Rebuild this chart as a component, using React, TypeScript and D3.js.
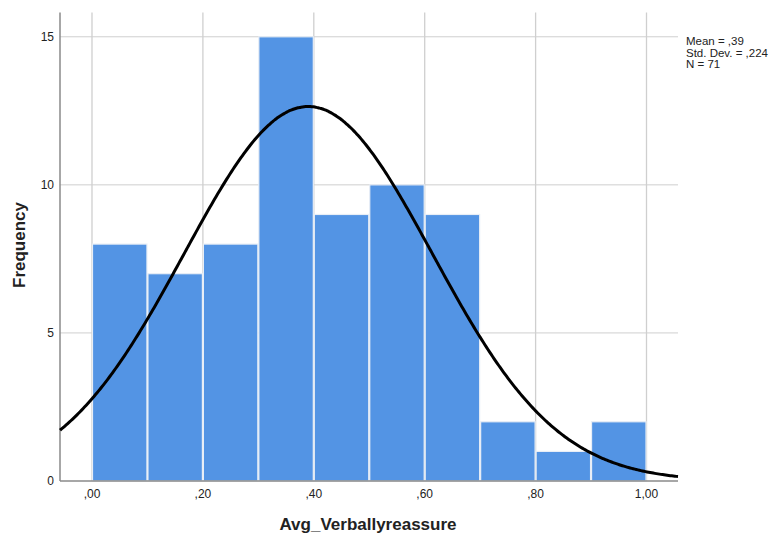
import React from "react";
import * as d3 from "d3";

// Histogram bins (lower edge) and counts
const binStarts = [0.0, 0.1, 0.2, 0.3, 0.4, 0.5, 0.6, 0.7, 0.8, 0.9];
const binWidth = 0.1;
const counts = [8, 7, 8, 15, 9, 10, 9, 2, 1, 2];
const xTicks = [0, 0.2, 0.4, 0.6, 0.8, 1.0];
const xTickLabels = [",00", ",20", ",40", ",60", ",80", "1,00"];
const yTicks = [0, 5, 10, 15];
const stats = { mean: 0.39, sd: 0.224, n: 71 };
const statLines = ["Mean = ,39", "Std. Dev. = ,224", "N = 71"];

const W = 771;
const H = 538;
const left = 60;
const right = 678;
const top = 12.5;
const bottom = 481;

export default function App() {
  const x = d3.scaleLinear().domain([-0.0577, 1.0568]).range([left, right]);
  const y = d3.scaleLinear().domain([0, 15.82]).range([bottom, top]);

  // normal curve scaled to the histogram (N * bin width * density)
  const pdf = (v: number) =>
    (stats.n * binWidth) / (stats.sd * Math.sqrt(2 * Math.PI)) *
    Math.exp(-0.5 * ((v - stats.mean) / stats.sd) ** 2);
  const curvePts = d3.range(0, 401).map((i) => {
    const v = -0.0577 + (i / 400) * (1.0568 + 0.0577);
    return [v, pdf(v)] as [number, number];
  });
  const line = d3
    .line<[number, number]>()
    .x((d) => x(d[0]))
    .y((d) => y(d[1]))
    .curve(d3.curveBasis);

  const font = "Arial, 'Liberation Sans', sans-serif";

  return (
    <svg width={W} height={H} style={{ position: "absolute", left: 0, top: 0 }}>
      <rect width={W} height={H} fill="#fff" />
      {/* gridlines */}
      {yTicks.filter((t) => t > 0).map((t) => (
        <line key={"gy" + t} x1={left} x2={right} y1={y(t)} y2={y(t)} stroke="#cfcfcf" strokeWidth={1} />
      ))}
      {xTicks.map((t) => (
        <line key={"gx" + t} x1={x(t)} x2={x(t)} y1={top} y2={bottom} stroke="#cfcfcf" strokeWidth={1.3} />
      ))}
      {/* bars */}
      {binStarts.map((b, i) => (
        <rect
          key={"b" + i}
          x={x(b) + 0.5}
          y={y(counts[i])}
          width={x(b + binWidth) - x(b) - 1}
          height={y(0) - y(counts[i])}
          fill="#5394e4"
          stroke="#e8eef6"
          strokeWidth={1.2}
        />
      ))}
      {/* axes */}
      <line x1={left} x2={left} y1={top} y2={bottom} stroke="#8a8a8a" strokeWidth={1.5} />
      <line x1={left} x2={right} y1={bottom} y2={bottom} stroke="#8a8a8a" strokeWidth={1.5} />
      {/* normal curve */}
      <path d={line(curvePts) || ""} fill="none" stroke="#000" strokeWidth={3} />
      {/* tick labels */}
      {yTicks.map((t) => (
        <text key={"yl" + t} x={left - 6} y={y(t) + 4} fontSize={12} fontFamily={font} textAnchor="end" fill="#222">
          {t}
        </text>
      ))}
      {xTicks.map((t, i) => (
        <text key={"xl" + t} x={x(t)} y={bottom + 17} fontSize={12} fontFamily={font} textAnchor="middle" fill="#222">
          {xTickLabels[i]}
        </text>
      ))}
      {/* axis titles */}
      <text x={368} y={530} fontSize={17} fontWeight="bold" fontFamily={font} textAnchor="middle" fill="#222">
        Avg_Verballyreassure
      </text>
      <text
        transform={`translate(25, 245) rotate(-90)`}
        fontSize={17}
        fontWeight="bold"
        fontFamily={font}
        textAnchor="middle"
        fill="#222"
      >
        Frequency
      </text>
      {/* summary statistics */}
      {statLines.map((s, i) => (
        <text key={"s" + i} x={686} y={45 + i * 11.5} fontSize={11.5} fontFamily={font} fill="#222">
          {s}
        </text>
      ))}
    </svg>
  );
}
